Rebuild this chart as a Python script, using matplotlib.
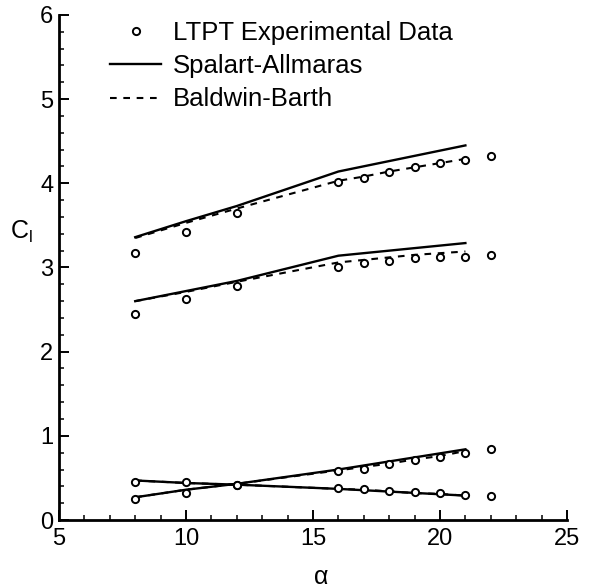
import matplotlib
matplotlib.use("Agg")
import matplotlib.pyplot as plt
from matplotlib.ticker import MultipleLocator

plt.rcParams['font.family'] = ['Liberation Sans', 'DejaVu Sans']
plt.rcParams['mathtext.fontset'] = 'custom'
plt.rcParams['mathtext.rm'] = 'Liberation Sans'

# experimental data (LTPT)
alpha_exp = [8, 10, 12, 16, 17, 18, 19, 20, 21, 22]
cl_exp_a = [3.17, 3.42, 3.65, 4.01, 4.06, 4.13, 4.19, 4.24, 4.28, 4.32]
cl_exp_b = [2.45, 2.62, 2.78, 3.01, 3.05, 3.08, 3.11, 3.13, 3.13, 3.15]
cl_exp_c = [0.25, 0.32, 0.42, 0.58, 0.61, 0.665, 0.71, 0.75, 0.80, 0.84]
cl_exp_d = [0.455, 0.45, 0.415, 0.38, 0.365, 0.345, 0.33, 0.32, 0.30, 0.28]

# Spalart-Allmaras
alpha_sa = [8, 10, 12, 16, 21]
cl_sa_a = [3.36, 3.55, 3.73, 4.14, 4.45]
cl_sa_b = [2.60, 2.72, 2.84, 3.14, 3.29]
cl_sa_c = [0.27, 0.36, 0.43, 0.60, 0.84]
cl_sa_d = [0.47, 0.44, 0.42, 0.37, 0.29]

# Baldwin-Barth
alpha_bb = [8, 10, 12, 16, 17, 18, 19, 20, 21]
cl_bb_a = [3.35, 3.53, 3.70, 4.03, 4.08, 4.14, 4.19, 4.24, 4.29]
cl_bb_b = [2.60, 2.71, 2.83, 3.06, 3.09, 3.12, 3.15, 3.17, 3.19]
cl_bb_c = [0.27, 0.36, 0.43, 0.59, 0.63, 0.67, 0.72, 0.76, 0.82]
cl_bb_d = [0.47, 0.44, 0.42, 0.37, 0.36, 0.34, 0.32, 0.31, 0.29]

fig = plt.figure(figsize=(5.9, 5.88), dpi=100)
ax = fig.add_axes([0.100, 0.1156, 0.861, 0.859])

mk = dict(marker='o', ms=5.2, mfc='white', mec='black', mew=1.4, ls='none', zorder=3)
first = True
for cl in (cl_exp_a, cl_exp_b, cl_exp_c, cl_exp_d):
    ax.plot(alpha_exp, cl, label='LTPT Experimental Data' if first else None, **mk)
    first = False

first = True
for cl in (cl_sa_a, cl_sa_b, cl_sa_c, cl_sa_d):
    ax.plot(alpha_sa, cl, color='black', lw=1.7, zorder=2,
            label='Spalart-Allmaras' if first else None)
    first = False

first = True
for cl in (cl_bb_a, cl_bb_b, cl_bb_c, cl_bb_d):
    ax.plot(alpha_bb, cl, color='black', lw=1.5, ls=(0, (3.2, 3.2)), zorder=2,
            label='Baldwin-Barth' if first else None)
    first = False

ax.set_xlim(5, 25)
ax.set_ylim(0, 6)
ax.xaxis.set_major_locator(MultipleLocator(5))
ax.xaxis.set_minor_locator(MultipleLocator(1))
ax.yaxis.set_major_locator(MultipleLocator(1))
ax.yaxis.set_minor_locator(MultipleLocator(0.2))
ax.spines['top'].set_visible(False)
ax.spines['right'].set_visible(False)
for s in ('left', 'bottom'):
    ax.spines[s].set_linewidth(2.0)
ax.tick_params(which='major', direction='in', length=7, width=1.4, labelsize=17)
ax.tick_params(which='minor', direction='in', length=3.5, width=1.1)
ax.tick_params(axis='x', which='major', pad=6)
ax.tick_params(axis='y', which='major', pad=4)

fig.text(0.036, 0.605, r'$\mathregular{C_l}$', fontsize=18, ha='center', va='center')
fig.text(0.545, 0.019, 'α', fontsize=18, ha='center', va='center')

ax.legend(loc='upper left', bbox_to_anchor=(110 / 590, 1 - 21 / 588),
          bbox_transform=fig.transFigure, frameon=False, fontsize=18.5,
          handlelength=2.0, handletextpad=0.45, labelspacing=0.36,
          borderpad=0, borderaxespad=0, numpoints=1)

fig.savefig('out.png', dpi=100)
